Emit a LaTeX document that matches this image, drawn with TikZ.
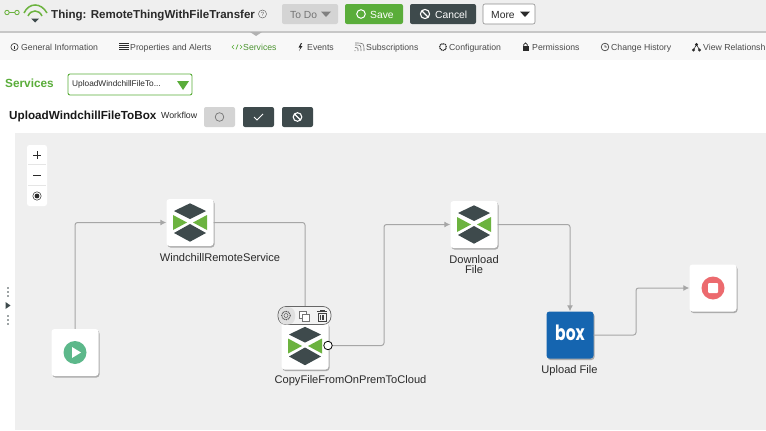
\documentclass[tikz,border=0pt]{standalone}
\usepackage{fontspec}
\setmainfont{Liberation Sans}
\newfontfamily\boxfont{Poppins}
\usetikzlibrary{arrows.meta,shadows}
\definecolor{hdr}{HTML}{EFEFEF}
\definecolor{tabbg}{HTML}{F8F8F8}
\definecolor{canvas}{HTML}{EFEFEF}
\definecolor{ptcgreen}{HTML}{5AAD3A}
\definecolor{ptcdark}{HTML}{3E4A4C}
\definecolor{icongreen}{HTML}{6CB33F}
\definecolor{txt}{HTML}{2A2A2A}
\definecolor{connc}{HTML}{A6A6A6}
\definecolor{boxblue}{HTML}{1565B0}
\definecolor{playgreen}{HTML}{5CB88A}
\definecolor{stopred}{HTML}{EC6A6E}
\tikzset{
  x=1pt,y=-1pt,
  tile/.style={rectangle,rounded corners=3pt,fill=white,minimum width=47pt,minimum height=47pt,inner sep=0pt,
    drop shadow={shadow xshift=1pt,shadow yshift=-1.5pt,opacity=.28,fill=black}},
  conn/.style={draw=connc,line width=1pt,rounded corners=2.5pt},
  arr/.style={conn,-{Latex[length=6pt,width=6pt,fill=connc]}},
  lbl/.style={font=\fontsize{11.1}{11}\selectfont,text=txt,inner sep=0pt,align=center},
  tab/.style={font=\fontsize{8.7}{10}\selectfont,text=txt!85,anchor=base west,inner sep=0pt},
  btn/.style={rectangle,rounded corners=2pt,minimum height=20pt,inner sep=0pt},
  btntext/.style={font=\fontsize{10.3}{12}\selectfont,inner sep=0pt,anchor=base west},
  ticon/.style={draw=txt!85,line width=.7pt},
}
\newcommand{\xicon}[2]{%
  \begin{scope}[shift={(#1,#2)}]
    \fill[ptcdark] (0,-19.2) -- (16,-11.5) -- (0,-3.5) -- (-16,-11.5) -- cycle;
    \fill[ptcdark] (0,1.5) -- (16,10.5) -- (0,19.2) -- (-16,10.5) -- cycle;
    \fill[icongreen] (-17,-7.5) -- (-3,0) -- (-17,7.5) -- cycle;
    \fill[icongreen] (17,-7.5) -- (3,0) -- (17,7.5) -- cycle;
  \end{scope}}
\begin{document}
\begin{tikzpicture}
\useasboundingbox (0,0) rectangle (766,431);
\clip (0,0) rectangle (766,431);
% bands
\fill[white] (0,0) rectangle (766,431);
\fill[hdr] (0,0) rectangle (766,31);
\fill[tabbg] (0,33) rectangle (766,60);
\fill[black!22] (0,31) rectangle (766,33);
\fill[canvas] (15,133) rectangle (766,430);
\fill[black!30] (250,32) -- (262,32) -- (256,36) -- cycle;
% header icons
\draw[icongreen,line width=.9pt] (7,12.5) circle[radius=2.2pt] (17,12.5) circle[radius=2.2pt] (9.2,12.5) -- (14.8,12.5);
\draw[icongreen,line width=1.5pt] (24,13) .. controls (29,2.3) and (41,2.3) .. (47,13);
\draw[icongreen,line width=1.5pt] (28,16) .. controls (31,9.3) and (39,9.3) .. (42,16);
\fill[ptcdark] (31,18.5) -- (39,18.5) -- (35,22.5) -- cycle;
\node[anchor=base west,inner sep=0pt,font=\bfseries\fontsize{11.55}{14}\selectfont,text=txt] (title) at (51,18.5) {Thing: RemoteThingWithFileTransfer};
\draw[txt!70,line width=.5pt] (262.5,14) circle[radius=4pt];
\node[inner sep=0pt,font=\fontsize{6}{6}\selectfont,text=txt!70] (qm) at (262.5,14) {?};
% top buttons
\node[btn,fill=black!17,minimum width=56pt] (todo) at (310,14) {};
\node[btntext,text=black!55] (todot) at (290,18) {To Do};
\fill[black!50] (321,11.5) -- (331,11.5) -- (326,17) -- cycle;
\node[btn,fill=ptcgreen,minimum width=58pt] (save) at (374,14) {};
\draw[white,line width=1pt] (361,14) circle[radius=4.3pt];
\node[btntext,text=white] (savet) at (370,18) {Save};
\node[btn,fill=ptcdark,minimum width=66pt] (cancel) at (443,14) {};
\draw[white,line width=1.1pt] (425,14) circle[radius=4.6pt] (421.8,10.8) -- (428.2,17.2);
\node[btntext,text=white] (cancelt) at (435,18) {Cancel};
\node[btn,fill=white,draw=black!45,line width=.6pt,minimum width=52pt] (more) at (509,14) {};
\node[btntext,text=txt] (moret) at (491,18) {More};
\fill[txt] (520,11.5) -- (530,11.5) -- (525,17) -- cycle;
% tabs
\draw[ticon] (14.5,47) circle[radius=3.6pt];
\fill[txt] (14,45.8) rectangle (15,49);
\node[tab] (t1) at (21,50) {General Information};
\foreach \yy in {43.5,45.5,47.5,49.5} \draw[txt,line width=1pt] (119,\yy) -- (129,\yy);
\node[tab] (t2) at (130,50) {Properties and Alerts};
\draw[ptcgreen,line width=.7pt] (234,45) -- (232,47) -- (234,49) (240,45) -- (242,47) -- (240,49) (238,44.5) -- (236,49.5);
\node[tab,text=ptcgreen!85!black] (t3) at (243,50) {Services};
\fill[txt] (301,43) -- (298.5,47.5) -- (300.5,47.5) -- (299,51) -- (302.5,46) -- (300.5,46) -- (302,43) -- cycle;
\node[tab] (t4) at (307,50) {Events};
\draw[black!55,line width=.6pt] (355,51) -- (355,50) (355,47.5) .. controls (358,47.5) .. (358,51) (355,45) .. controls (361,45) .. (361,51) (355,43) .. controls (364,43) .. (364,51);
\node[tab] (t5) at (366,50) {Subscriptions};
\draw[txt,line width=1.2pt,dash pattern=on 1.2pt off .7pt] (443,47) circle[radius=3.4pt];
\node[tab] (t6) at (449,50) {Configuration};
\fill[txt] (522.5,46) rectangle (528.5,51);
\draw[txt,line width=.8pt] (523.8,46) -- (523.8,44.5) .. controls (523.8,42.5) and (527.2,42.5) .. (527.2,44.5) -- (527.2,46);
\node[tab] (t7) at (532,50) {Permissions};
\draw[ticon] (605,47) circle[radius=3.8pt] (605,44.8) -- (605,47) -- (607.2,47);
\node[tab] (t8) at (611,50) {Change History};
\draw[txt,line width=.6pt] (696.5,44.5) -- (693.5,50) (696.5,44.5) -- (699.5,50);
\fill[txt] (696.5,44.5) circle[radius=1.7pt] (693.5,50) circle[radius=1.7pt] (699.5,50) circle[radius=1.7pt];
\node[tab] (t9) at (703,50) {View Relationsh};
% services row
\node[anchor=west,inner sep=0pt,font=\bfseries\fontsize{11.8}{13}\selectfont,text=ptcgreen] (svc) at (5,83) {Services};
\node[rectangle,rounded corners=2pt,draw=ptcgreen,line width=.9pt,fill=white,minimum width=124pt,minimum height=21pt,inner sep=0pt] (dd) at (130,84.5) {};
\node[anchor=west,inner sep=0pt,font=\fontsize{8.3}{10}\selectfont,text=txt] (ddt) at (72,84.5) {UploadWindchillFileTo...};
\fill[ptcgreen] (177,81) -- (189,81) -- (183,90) -- cycle;
\node[anchor=west,inner sep=0pt,font=\bfseries\fontsize{11.7}{14}\selectfont,text=black!90] (wf) at (9,116) {UploadWindchillFileToBox};
\node[anchor=west,inner sep=0pt,font=\fontsize{8.8}{10}\selectfont,text=txt] (wft) at (161,115) {Workflow};
\node[btn,fill=black!17,minimum width=31pt] (b1) at (219.5,117) {};
\draw[black!55,line width=.7pt] (219.5,117) circle[radius=4.3pt];
\node[btn,fill=ptcdark,minimum width=31pt] (b2) at (258.5,117) {};
\draw[white,line width=.8pt] (254,117) -- (257,120) -- (263,114);
\node[btn,fill=ptcdark,minimum width=31pt] (b3) at (297.5,117) {};
\draw[white,line width=1.1pt] (297.5,117) circle[radius=4.3pt] (294.5,114) -- (300.5,120);
% zoom control
\node[rectangle,rounded corners=2.5pt,fill=white,minimum width=20pt,minimum height=61pt,inner sep=0pt] (zoom) at (37,175.5) {};
\draw[black!10,line width=.4pt] (28,164.5) -- (46,164.5) (28,185) -- (46,185);
\draw[txt,line width=1pt] (33,155) -- (41,155) (37,151) -- (37,159) (33,175.5) -- (41,175.5);
\fill[txt] (37,196) circle[radius=2.4pt];
\draw[txt,line width=.5pt] (37,196) circle[radius=4.2pt];
% left handle
\fill[ptcdark] (8,288) circle[radius=.9pt] (8,292) circle[radius=.9pt] (8,296) circle[radius=.9pt]
  (8,316) circle[radius=.9pt] (8,320) circle[radius=.9pt] (8,324) circle[radius=.9pt];
\fill[ptcdark] (5.5,302) -- (10.5,305.5) -- (5.5,309) -- cycle;
% tiles
\node[tile] (start) at (75,352.5) {};
\node[tile] (wind) at (190,222.5) {};
\node[tile] (copy) at (305,346) {};
\node[tile] (down) at (474,224.5) {};
\node[tile,fill=boxblue] (box) at (570,335) {};
\node[tile] (stop) at (713,288) {};
\coordinate (port) at (328,345.5);
\coordinate (bendA) at (384,345.5);
\coordinate (bendB) at (636,335);
% connectors
\draw[arr] (start.north) |- (wind.west);
\draw[conn] (wind.east) -| (copy.north);
\draw[arr] (port) -- (bendA) -- (bendA |- down.west) -- (down.west);
\draw[arr] (down.east) -| (box.north);
\draw[arr] (box.east) -- (bendB) -- (bendB |- stop.west) -- (stop.west);
% tile contents
\fill[playgreen] (start.center) circle[radius=11.5pt];
\fill[white] (72,347) -- (81,352.5) -- (72,358) -- cycle;
\xicon{190}{222.5}
\xicon{305}{346}
\xicon{474}{224.5}
\fill[stopred] (stop.center) circle[radius=11.5pt];
\fill[white,rounded corners=1pt] (708,283) rectangle (718,293);
\node[font=\boxfont\bfseries\fontsize{21}{22}\selectfont,text=white,inner sep=0pt] (boxt) at (570,332.5) {\scalebox{.74}[1]{box}};
% toolbar
\node[rectangle,rounded corners=8pt,fill=white!95!black,draw=black!60,line width=.7pt,minimum width=53pt,minimum height=18pt,inner sep=0pt] (bar) at (304.5,315.5) {};
\fill[black!12,rounded corners=7pt] (279,307) -- (295,307) -- (295,324.5) -- (279,324.5) -- cycle;
\draw[black!65,line width=1.1pt,dash pattern=on 1pt off .8pt] (286,315.5) circle[radius=4.3pt];
\draw[black!65,line width=.5pt] (286,315.5) circle[radius=2pt];
\draw[black!55,line width=.6pt,fill=white] (299,311) rectangle (306,318);
\draw[black!55,line width=.6pt,fill=white] (302,314) rectangle (309,321);
\draw[black!75,line width=.7pt] (318,313) rectangle (326,321) (317,311.5) -- (327,311.5) (320,311.5) -- (320,310) -- (324,310) -- (324,311.5) (320.5,315) -- (320.5,319.5) (322,315) -- (322,319.5) (323.5,315) -- (323.5,319.5);
\node[circle,fill=white,draw=black,line width=.8pt,minimum size=8.5pt,inner sep=0pt] (portc) at (port) {};
% labels
\node[lbl] (lw) at (220,258) {WindchillRemoteService};
\node[lbl] (lc) at (350.5,380.5) {CopyFileFromOnPremToCloud};
\node[lbl] (ld) at (474,264.5) {Download\\[-.5pt]File};
\node[lbl] (lb) at (569.5,371) {Upload File};
\end{tikzpicture}
\end{document}
